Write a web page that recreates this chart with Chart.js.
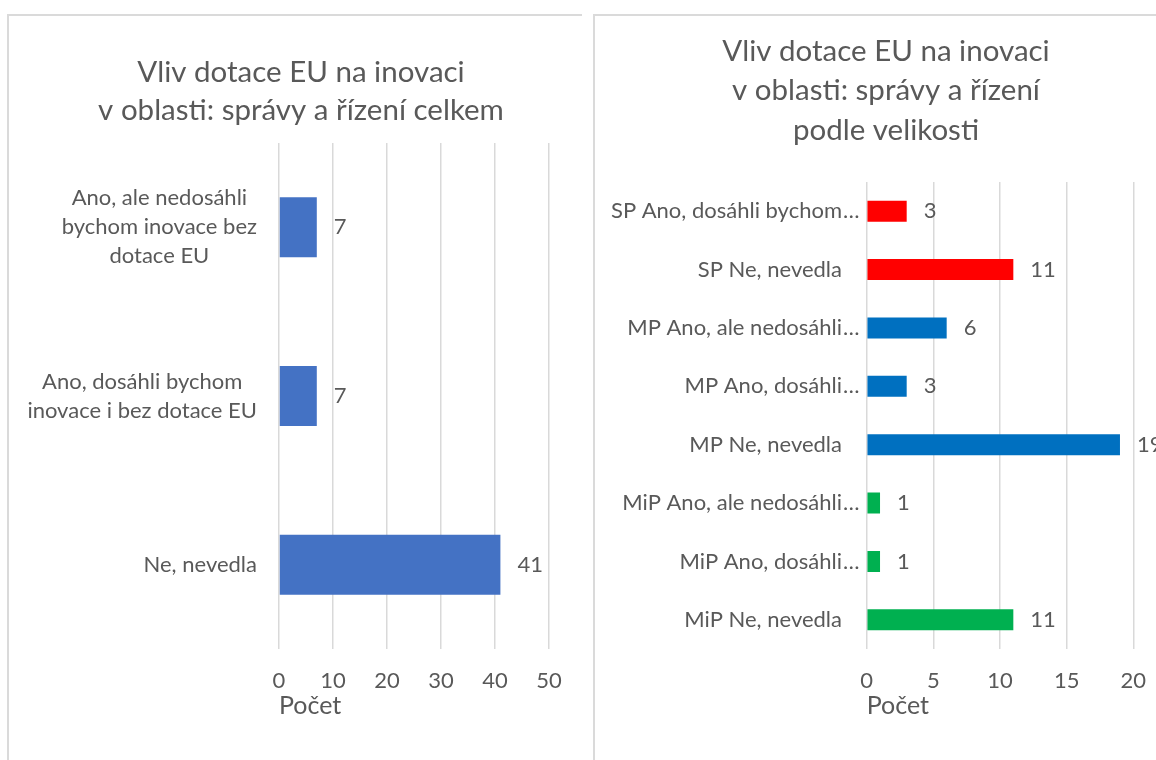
<!DOCTYPE html>
<html lang="cs">
<head>
<meta charset="utf-8">
<title>Vliv dotace EU na inovaci</title>
<script src="https://cdn.jsdelivr.net/npm/chart.js@4.4.1/dist/chart.umd.min.js"></script>
<style>
  html, body { margin: 0; padding: 0; background: #fff; width: 1156px; height: 760px; overflow: hidden; }
  .panel { position: absolute; top: 14px; height: 760px; box-sizing: border-box;
           border-top: 2px solid #dadada; border-left: 2px solid #dadada; }
  #panelA { left: 7px; width: 575px; }
  #panelB { left: 593px; width: 600px; }
  canvas { position: absolute; top: 14px; }
  #chartA { left: 8px; }
  #chartB { left: 594px; }
</style>
</head>
<body>
<div class="panel" id="panelA"></div>
<div class="panel" id="panelB"></div>
<canvas id="chartA" width="586" height="746"></canvas>
<canvas id="chartB" width="584" height="746"></canvas>
<script>
// ---- data: overall ----
const totalTitle = ['Vliv dotace EU na inovaci', 'v oblasti: správy a řízení celkem'];
const totalCategories = [
  ['Ano, ale nedosáhli', 'bychom inovace bez', 'dotace EU'],
  ['Ano, dosáhli bychom', 'inovace i bez dotace EU'],
  ['Ne, nevedla']
];
const totalValues = [7, 7, 41];
const totalTicks = [0, 10, 20, 30, 40, 50];

// ---- data: by company size ----
const sizeTitle = ['Vliv dotace EU na inovaci', 'v oblasti: správy a řízení', 'podle velikosti'];
const sizeCategories = [
  'SP Ano, dosáhli bychom…',
  'SP Ne, nevedla',
  'MP Ano, ale nedosáhli…',
  'MP Ano, dosáhli…',
  'MP Ne, nevedla',
  'MiP Ano, ale nedosáhli…',
  'MiP Ano, dosáhli…',
  'MiP Ne, nevedla'
];
const sizeGroups = ['SP', 'SP', 'MP', 'MP', 'MP', 'MiP', 'MiP', 'MiP'];
const sizeValues = [3, 11, 6, 3, 19, 1, 1, 11];
const sizeTicks = [0, 5, 10, 15, 20];

const axisTitle = 'Počet';

// ---- styling ----
const TEXT = '#595959';
const GRID = '#d9d9d9';
const FONT = 'Lato, "Open Sans", sans-serif';
const groupColors = { SP: '#FF0000', MP: '#0070C0', MiP: '#00B050' };

// multi-line chart heading centred over the canvas
const headingPlugin = {
  id: 'heading',
  afterDraw(chart, args, opts) {
    const ctx = chart.ctx;
    ctx.save();
    ctx.fillStyle = TEXT;
    ctx.font = opts.size + 'px ' + FONT;
    ctx.textAlign = 'center';
    ctx.textBaseline = 'middle';
    opts.lines.forEach((t, i) => ctx.fillText(t, opts.x, opts.y + i * opts.lineHeight));
    ctx.restore();
  }
};

// category names left of the bars: each block right-aligned, its lines centred,
// a trailing ellipsis hangs past the right edge
const categoryPlugin = {
  id: 'categoryNames',
  afterDraw(chart, args, opts) {
    const ctx = chart.ctx;
    const yScale = chart.scales.y;
    ctx.save();
    ctx.fillStyle = TEXT;
    ctx.font = opts.size + 'px ' + FONT;
    ctx.textBaseline = 'middle';
    chart.data.labels.forEach((label, i) => {
      const lines = (Array.isArray(label) ? label : [label]).map(l => {
        const cut = l.endsWith('…');
        return { text: cut ? l.slice(0, -1) : l, tail: cut ? '…' : '' };
      });
      const widths = lines.map(l => ctx.measureText(l.text).width);
      const block = Math.max(...widths);
      const cy = yScale.getPixelForValue(i);
      const firstY = cy - (lines.length - 1) * opts.lineHeight / 2;
      lines.forEach((l, k) => {
        const cx = opts.right - block / 2;
        const ly = firstY + k * opts.lineHeight;
        ctx.textAlign = 'center';
        ctx.fillText(l.text, cx, ly);
        if (l.tail) {
          ctx.textAlign = 'left';
          ctx.fillText(l.tail, cx + widths[k] / 2 + 1, ly);
        }
      });
    });
    ctx.restore();
  }
};

// value printed just past the end of each bar
const valuePlugin = {
  id: 'barValues',
  afterDatasetsDraw(chart, args, opts) {
    const ctx = chart.ctx;
    const ds = chart.data.datasets[0];
    ctx.save();
    ctx.fillStyle = TEXT;
    ctx.font = opts.size + 'px ' + FONT;
    ctx.textAlign = 'left';
    ctx.textBaseline = 'middle';
    chart.getDatasetMeta(0).data.forEach((bar, i) => {
      ctx.fillText(String(ds.data[i]), bar.x + opts.offset, bar.y);
    });
    ctx.restore();
  }
};

function makeChart(id, cfg) {
  return new Chart(document.getElementById(id), {
    type: 'bar',
    data: {
      labels: cfg.labels,
      datasets: [{
        data: cfg.values,
        backgroundColor: cfg.colors,
        borderWidth: 0,
        categoryPercentage: 1,
        barPercentage: cfg.barPct
      }]
    },
    plugins: [headingPlugin, categoryPlugin, valuePlugin],
    options: {
      indexAxis: 'y',
      responsive: false,
      animation: false,
      layout: { padding: cfg.padding },
      scales: {
        x: {
          min: cfg.ticks[0],
          max: cfg.ticks[cfg.ticks.length - 1],
          afterBuildTicks: s => { s.ticks = cfg.ticks.map(v => ({ value: v })); },
          afterFit: s => { s.height = 80; },
          ticks: { color: TEXT, font: { family: FONT, size: 22 }, padding: 19 },
          grid: { color: GRID, lineWidth: 1.5, drawTicks: false },
          border: { display: false },
          title: {
            display: true, text: axisTitle, align: 'start', color: TEXT,
            font: { family: FONT, size: 25 }, padding: { top: 0, bottom: 8 }
          }
        },
        y: { display: false }
      },
      plugins: {
        legend: { display: false },
        tooltip: { enabled: false },
        heading: cfg.heading,
        categoryNames: cfg.names,
        barValues: { size: 22, offset: 17 }
      }
    }
  });
}

makeChart('chartA', {
  labels: totalCategories,
  values: totalValues,
  colors: '#4472C4',
  barPct: 0.356,
  ticks: totalTicks,
  padding: { left: 271, right: 45, top: 129, bottom: 31 },
  heading: { lines: totalTitle, x: 293, y: 58, lineHeight: 38.5, size: 29.5 },
  names: { size: 22, lineHeight: 29, right: 249 }
});

makeChart('chartB', {
  labels: sizeCategories,
  values: sizeValues,
  colors: sizeGroups.map(g => groupColors[g]),
  barPct: 0.36,
  ticks: sizeTicks,
  padding: { left: 272.7, right: 44.7, top: 168, bottom: 31 },
  heading: { lines: sizeTitle, x: 292, y: 37, lineHeight: 39.5, size: 29.5 },
  names: { size: 22, lineHeight: 29, right: 248 }
});
</script>
</body>
</html>
